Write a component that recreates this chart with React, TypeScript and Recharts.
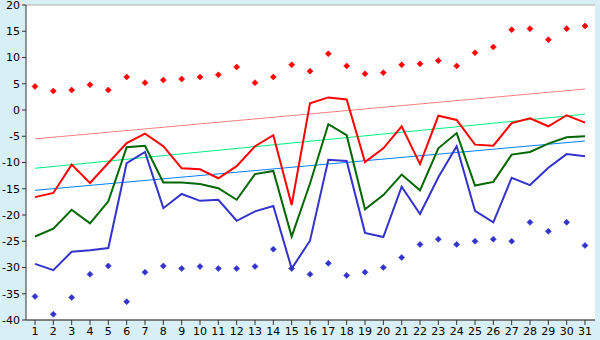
import { ComposedChart, Line, XAxis, YAxis, CartesianGrid } from "recharts";

const days = [
  "1", "2", "3", "4", "5", "6", "7", "8", "9", "10", "11", "12", "13", "14", "15", "16",
  "17", "18", "19", "20", "21", "22", "23", "24", "25", "26", "27", "28", "29", "30", "31",
];

const redLine = [
  -16.6, -15.8, -10.4, -13.9, -10.1, -6.3, -4.5, -6.9, -11.1, -11.3, -13.0, -10.7, -6.9, -4.8, -18.1, 1.3,
  2.4, 2.0, -9.9, -7.3, -3.1, -10.3, -1.1, -1.9, -6.6, -6.8, -2.5, -1.6, -3.1, -1.0, -2.4,
];
const greenLine = [
  -24.1, -22.6, -19.0, -21.6, -17.4, -7.1, -6.8, -13.8, -13.8, -14.1, -14.9, -17.1, -12.2, -11.6, -24.1, -14.0,
  -2.7, -4.8, -18.9, -16.2, -12.3, -15.3, -7.3, -4.4, -14.4, -13.7, -8.5, -8.0, -6.4, -5.2, -5.0,
];
const blueLine = [
  -29.3, -30.5, -27.0, -26.7, -26.3, -10.1, -8.0, -18.7, -16.0, -17.3, -17.1, -21.1, -19.3, -18.3, -30.2, -24.9,
  -9.5, -9.7, -23.4, -24.2, -14.6, -19.8, -12.8, -6.9, -19.2, -21.4, -12.9, -14.3, -11.0, -8.4, -8.8,
];
const redDots = [
  4.5, 3.6, 3.8, 4.8, 3.8, 6.3, 5.2, 5.7, 5.9, 6.3, 6.7, 8.2, 5.2, 6.3, 8.6, 7.4,
  10.7, 8.4, 6.9, 7.1, 8.6, 8.8, 9.4, 8.4, 10.9, 12.0, 15.3, 15.5, 13.4, 15.5, 16.0,
];
const blueDots = [
  -35.5, -38.9, -35.7, -31.3, -29.7, -36.5, -30.9, -29.7, -30.2, -29.8, -30.2, -30.2, -29.8, -26.5, -30.2, -31.3,
  -29.2, -31.5, -30.9, -30.0, -28.1, -25.6, -24.6, -25.6, -25.0, -24.6, -25.0, -21.4, -23.1, -21.4, -25.8,
];
// trend lines: values read at first and last day
const redTrend = [-5.5, 4.0];
const greenTrend = [-11.1, -0.8];
const blueTrend = [-15.3, -5.9];

const yTicks = [-40, -35, -30, -25, -20, -15, -10, -5, 0, 5, 10, 15, 20];

const last = days.length - 1;
const data = days.map((d, i) => ({
  day: d,
  red: redLine[i],
  green: greenLine[i],
  blue: blueLine[i],
  redDot: redDots[i],
  blueDot: blueDots[i],
  redTrend: i === 0 ? redTrend[0] : i === last ? redTrend[1] : null,
  greenTrend: i === 0 ? greenTrend[0] : i === last ? greenTrend[1] : null,
  blueTrend: i === 0 ? blueTrend[0] : i === last ? blueTrend[1] : null,
}));

const diamond = (color: string) => (props: any) => {
  const { cx, cy, index } = props;
  if (cx == null || cy == null) return <g key={index} />;
  const r = 3;
  return (
    <polygon
      key={index}
      points={`${cx},${cy - r} ${cx + r},${cy} ${cx},${cy + r} ${cx - r},${cy}`}
      fill={color}
      stroke={color}
      strokeWidth={0.6}
    />
  );
};

const font = { fontFamily: "DejaVu Sans", fontSize: 11, fill: "#000" };

export default function App() {
  return (
    <div style={{ position: "fixed", left: 0, top: 0, width: 600, height: 340, background: "#d9eff6" }}>
      <ComposedChart
        width={600}
        height={340}
        data={data}
        margin={{ top: 5, right: 5, left: 0, bottom: 0 }}
      >
        <CartesianGrid vertical={false} stroke="#aaaaaa" fill="#ffffff" />
        <XAxis
          dataKey="day"
          height={20}
          interval={0}
          tickSize={5}
          tick={font}
          stroke="#333"
          padding={{ left: 9, right: 10 }}
          tickLine={{ stroke: "#333" }}
        />
        <YAxis
          yAxisId="l"
          domain={[-40, 20]}
          ticks={yTicks}
          width={26}
          tickSize={4}
          tick={font}
          stroke="#333"
          interval={0}
        />
        <YAxis
          yAxisId="r"
          orientation="right"
          domain={[-40, 20]}
          width={0}
          tick={false}
          tickLine={false}
          stroke="#aaaaaa"
        />
        <Line yAxisId="l" dataKey="redTrend" stroke="#ff8080" strokeWidth={1} dot={false} connectNulls isAnimationActive={false} />
        <Line yAxisId="l" dataKey="greenTrend" stroke="#00f080" strokeWidth={1} dot={false} connectNulls isAnimationActive={false} />
        <Line yAxisId="l" dataKey="blueTrend" stroke="#0080ff" strokeWidth={1} dot={false} connectNulls isAnimationActive={false} />
        <Line yAxisId="l" type="linear" dataKey="blue" stroke="#3333cc" strokeWidth={2} dot={false} isAnimationActive={false} />
        <Line yAxisId="l" type="linear" dataKey="green" stroke="#006600" strokeWidth={2} dot={false} isAnimationActive={false} />
        <Line yAxisId="l" type="linear" dataKey="red" stroke="#ff0000" strokeWidth={2} dot={false} isAnimationActive={false} />
        <Line yAxisId="l" dataKey="redDot" stroke="none" dot={diamond("#ff0000")} isAnimationActive={false} />
        <Line yAxisId="l" dataKey="blueDot" stroke="none" dot={diamond("#3333cc")} isAnimationActive={false} />
      </ComposedChart>
    </div>
  );
}
